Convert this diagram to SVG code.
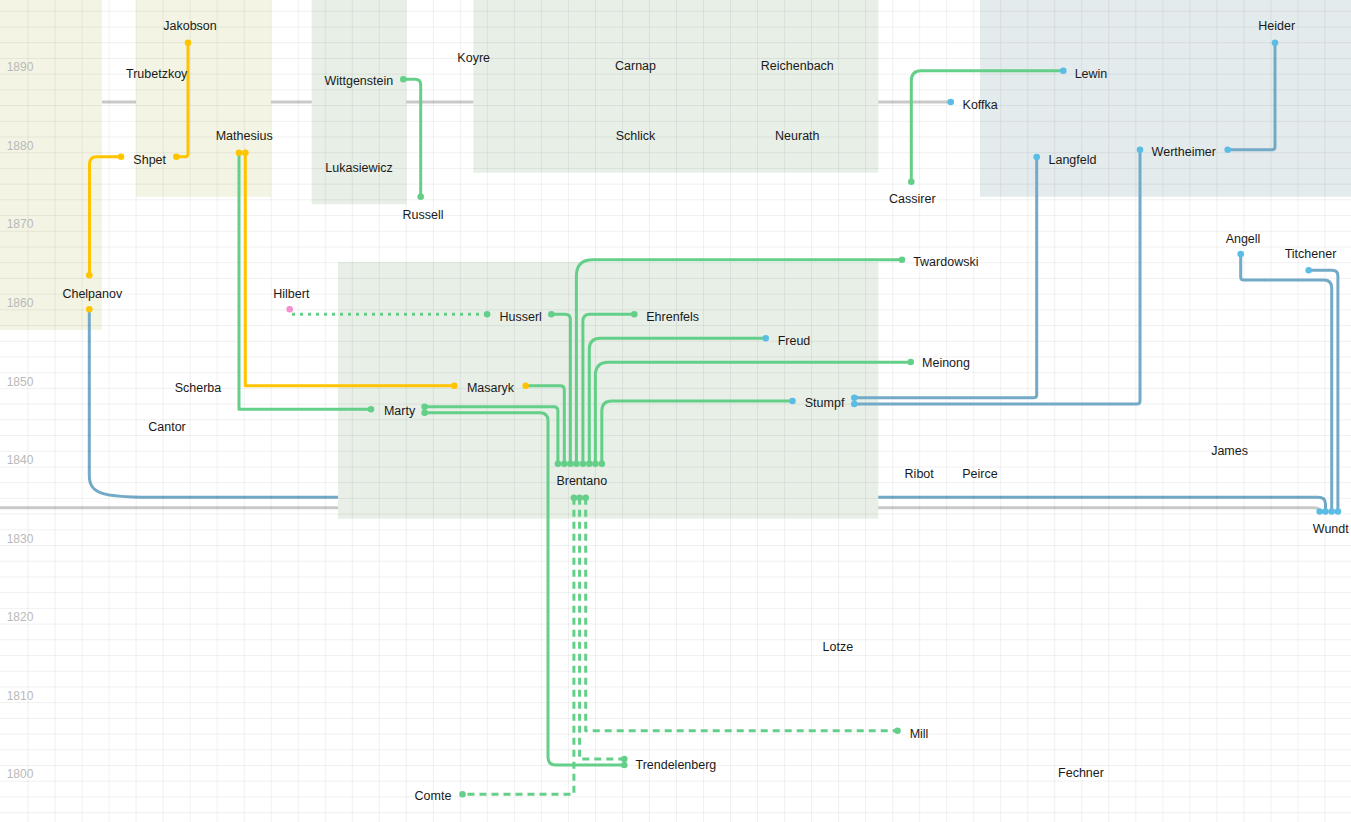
<svg xmlns="http://www.w3.org/2000/svg" width="1351" height="822" viewBox="0 0 1351 822">
<style>
.lbl{font-family:"Liberation Sans",Arial,sans-serif;font-size:12.5px;fill:#1a1a1a;text-anchor:middle}
.yr{font-family:"Liberation Sans",Arial,sans-serif;font-size:12px;fill:#b9b9b9}
.grid{stroke:#000;stroke-opacity:0.06;stroke-width:1;fill:none}
.c{fill:none;stroke-width:3;stroke-linejoin:round}
.g{stroke:#64cf88}
.y{stroke:#ffc400}
.b{stroke:#72aac8}
.gr{stroke:#c9c9c9}
.dash{stroke-dasharray:7 5}
.dot{stroke-dasharray:3 5}
.dg{fill:#64cf88}
.dy{fill:#ffc400}
.db{fill:#5bbde6}
.dp{fill:#f48fd0}
.box-y{fill:#f3f4e3}
.box-g{fill:#e7efe7}
.box-b{fill:#e4ebec}
</style>
<rect width="1351" height="822" fill="#ffffff"/>
<rect class="box-y" x="0" y="0" width="102" height="330"/>
<g id="background-lines">
<path class="c gr" d="M102 102H950.7"/>
<path class="c gr" d="M0 507.7H1314Q1319.7 507.7 1319.7 511.5"/>
<path class="c b" d="M89.3 309.3V475C89.3 493 100 497.3 150 497.3H1318Q1325.5 497.3 1325.5 504V511.5"/>
</g>
<g id="groups">
<rect class="box-y" x="136" y="0" width="135.2" height="196.7"/>
<rect class="box-g" x="311.7" y="0" width="94.6" height="204.3"/>
<rect class="box-g" x="473.3" y="0" width="405" height="172.7"/>
<rect class="box-b" x="980" y="0" width="371" height="196.7"/>
<rect class="box-g" x="338" y="262" width="540.3" height="256.7"/>
</g>
<path class="grid" d="M28.02 0V822M55.04 0V822M82.06 0V822M109.08 0V822M136.1 0V822M163.12 0V822M190.14 0V822M217.16 0V822M244.18 0V822M271.2 0V822M298.22 0V822M325.24 0V822M352.26 0V822M379.28 0V822M406.3 0V822M433.32 0V822M460.34 0V822M487.36 0V822M514.38 0V822M541.4 0V822M568.42 0V822M595.44 0V822M622.46 0V822M649.48 0V822M676.5 0V822M703.52 0V822M730.54 0V822M757.56 0V822M784.58 0V822M811.6 0V822M838.62 0V822M865.64 0V822M892.66 0V822M919.68 0V822M946.7 0V822M973.72 0V822M1000.74 0V822M1027.76 0V822M1054.78 0V822M1081.8 0V822M1108.82 0V822M1135.84 0V822M1162.86 0V822M1189.88 0V822M1216.9 0V822M1243.92 0V822M1270.94 0V822M1297.96 0V822M1324.98 0V822"/>
<path class="grid" d="M0 11.3H1351M0 27.01H1351M0 42.72H1351M0 58.44H1351M0 74.15H1351M0 89.86H1351M0 105.57H1351M0 121.28H1351M0 137H1351M0 152.71H1351M0 168.42H1351M0 184.13H1351M0 199.84H1351M0 215.56H1351M0 231.27H1351M0 246.98H1351M0 262.69H1351M0 278.4H1351M0 294.12H1351M0 309.83H1351M0 325.54H1351M0 341.25H1351M0 356.96H1351M0 372.68H1351M0 388.39H1351M0 404.1H1351M0 419.81H1351M0 435.52H1351M0 451.24H1351M0 466.95H1351M0 482.66H1351M0 498.37H1351M0 514.08H1351M0 529.8H1351M0 545.51H1351M0 561.22H1351M0 576.93H1351M0 592.64H1351M0 608.36H1351M0 624.07H1351M0 639.78H1351M0 655.49H1351M0 671.2H1351M0 686.92H1351M0 702.63H1351M0 718.34H1351M0 734.05H1351M0 749.76H1351M0 765.48H1351M0 781.19H1351M0 796.9H1351M0 812.61H1351"/>
<g id="years">
<text class="yr" x="6.7" y="71.4">1890</text>
<text class="yr" x="6.7" y="149.9">1880</text>
<text class="yr" x="6.7" y="228.4">1870</text>
<text class="yr" x="6.7" y="307">1860</text>
<text class="yr" x="6.7" y="385.6">1850</text>
<text class="yr" x="6.7" y="464.1">1840</text>
<text class="yr" x="6.7" y="542.7">1830</text>
<text class="yr" x="6.7" y="621.3">1820</text>
<text class="yr" x="6.7" y="699.8">1810</text>
<text class="yr" x="6.7" y="778.4">1800</text>
</g>
<g id="connectors">
<path class="c y" d="M188 42.7V153.7Q188 156.7 185 156.7H176.3"/>
<path class="c y" d="M121 156.7H97Q89.5 156.7 89.5 164V275.3"/>
<path class="c g" d="M239 152.7V409.3H371"/>
<path class="c y" d="M245.3 152.7V385.7H454.3"/>
<path class="c g" d="M403.3 79.3H415Q420.7 79.3 420.7 85V196.7"/>
<path class="c g" d="M911.3 181.7V80.7Q911.3 70.7 921.3 70.7H1063.3"/>
<path class="c b" d="M1275 42.7V146.7Q1275 149.7 1272 149.7H1227.7"/>
<path class="c b" d="M1140 149.7V401Q1140 404 1137 404H854.3"/>
<path class="c b" d="M1036.7 157V394.7Q1036.7 397.7 1033.7 397.7H854.3"/>
<path class="c b" d="M1240.7 254V277Q1240.7 280 1244 280H1324Q1331.7 280 1331.7 288V511.5"/>
<path class="c b" d="M1308.7 270.3H1332Q1337.9 270.3 1337.9 276V511.5"/>
<path class="c g" d="M576.4 463.7V276Q576.4 259.7 592.7 259.7H902"/>
<path class="c g" d="M582.9 463.7V321.3Q582.9 314.3 589.9 314.3H634.3"/>
<path class="c g" d="M589.3 463.7V349.3Q589.3 338.3 600.3 338.3H765.7"/>
<path class="c g" d="M595.4 463.7V375.3Q595.4 362.3 608.4 362.3H910.7"/>
<path class="c g" d="M601.8 463.7V411Q601.8 401 611.8 401H792.5"/>
<path class="c g" d="M551.4 314.3H565.4Q570.4 314.3 570.4 319.3V463.7"/>
<path class="c g" d="M525.7 385.7H560.3Q564.3 385.7 564.3 389.7V463.7"/>
<path class="c g" d="M424.6 406.7H553.9Q557.9 406.7 557.9 410.7V463.7"/>
<path class="c g" d="M424.6 412.7H540Q548 412.7 548 420.7V757Q548 765 556 765H624.3"/>
<path class="c g dot" d="M292 314.3H487.1"/>
<path class="c g dash" d="M573.9 497.7V794.3H462.5"/>
<path class="c g dash" d="M579.6 497.7V759H624.3"/>
<path class="c g dash" d="M585.7 497.7V730.7H897.5"/>
</g>
<g id="node-jakobson"><text class="lbl" x="190" y="30">Jakobson</text><circle class="dy" cx="188" cy="42.7" r="3.3"/></g>
<g id="node-trubetzkoy"><text class="lbl" x="156.7" y="78">Trubetzkoy</text></g>
<g id="node-shpet"><text class="lbl" x="149.7" y="164">Shpet</text><circle class="dy" cx="121" cy="156.7" r="3.3"/><circle class="dy" cx="176.3" cy="156.7" r="3.3"/></g>
<g id="node-mathesius"><text class="lbl" x="244.2" y="140">Mathesius</text><circle class="dy" cx="239" cy="152.7" r="3.3"/><circle class="dy" cx="245.3" cy="152.7" r="3.3"/></g>
<g id="node-chelpanov"><text class="lbl" x="92.3" y="297.7">Chelpanov</text><circle class="dy" cx="89.3" cy="275.3" r="3.3"/><circle class="dy" cx="89.3" cy="309.3" r="3.3"/></g>
<g id="node-wittgenstein"><text class="lbl" x="358.8" y="85.3">Wittgenstein</text><circle class="dg" cx="403.3" cy="79.3" r="3.3"/></g>
<g id="node-lukasiewicz"><text class="lbl" x="359" y="172">Lukasiewicz</text></g>
<g id="node-russell"><text class="lbl" x="423" y="218.7">Russell</text><circle class="dg" cx="420.7" cy="196.7" r="3.3"/></g>
<g id="node-hilbert"><text class="lbl" x="291.3" y="298.3">Hilbert</text><circle class="dp" cx="289.7" cy="309.3" r="3.3"/></g>
<g id="node-koyre"><text class="lbl" x="473.7" y="62.3">Koyre</text></g>
<g id="node-carnap"><text class="lbl" x="635.5" y="70">Carnap</text></g>
<g id="node-reichenbach"><text class="lbl" x="797.3" y="70">Reichenbach</text></g>
<g id="node-schlick"><text class="lbl" x="635.5" y="140">Schlick</text></g>
<g id="node-neurath"><text class="lbl" x="797.3" y="140">Neurath</text></g>
<g id="node-cassirer"><text class="lbl" x="912.3" y="202.7">Cassirer</text><circle class="dg" cx="911.3" cy="181.7" r="3.3"/></g>
<g id="node-lewin"><text class="lbl" x="1091" y="77.7">Lewin</text><circle class="db" cx="1063.3" cy="70.7" r="3.3"/></g>
<g id="node-koffka"><text class="lbl" x="980.2" y="108.7">Koffka</text><circle class="db" cx="950.7" cy="102" r="3.3"/></g>
<g id="node-heider"><text class="lbl" x="1276.7" y="30">Heider</text><circle class="db" cx="1275" cy="42.7" r="3.3"/></g>
<g id="node-wertheimer"><text class="lbl" x="1183.8" y="156">Wertheimer</text><circle class="db" cx="1227.7" cy="149.7" r="3.3"/><circle class="db" cx="1140" cy="149.7" r="3.3"/></g>
<g id="node-langfeld"><text class="lbl" x="1072.5" y="164">Langfeld</text><circle class="db" cx="1036.7" cy="157" r="3.3"/></g>
<g id="node-angell"><text class="lbl" x="1243" y="242.7">Angell</text><circle class="db" cx="1240.7" cy="254" r="3.3"/></g>
<g id="node-titchener"><text class="lbl" x="1310.5" y="257.7">Titchener</text><circle class="db" cx="1308.7" cy="270.3" r="3.3"/></g>
<g id="node-twardowski"><text class="lbl" x="945.8" y="265.7">Twardowski</text><circle class="dg" cx="902" cy="259.7" r="3.3"/></g>
<g id="node-husserl"><text class="lbl" x="520.7" y="320.7">Husserl</text><circle class="dg" cx="487.1" cy="314.3" r="3.3"/><circle class="dg" cx="551.4" cy="314.3" r="3.3"/></g>
<g id="node-ehrenfels"><text class="lbl" x="672.7" y="320.7">Ehrenfels</text><circle class="dg" cx="634.3" cy="314.3" r="3.3"/></g>
<g id="node-freud"><text class="lbl" x="794" y="345">Freud</text><circle class="db" cx="765.7" cy="338.3" r="3.3"/></g>
<g id="node-meinong"><text class="lbl" x="946" y="367.3">Meinong</text><circle class="dg" cx="910.7" cy="362" r="3.3"/></g>
<g id="node-masaryk"><text class="lbl" x="490.5" y="391.7">Masaryk</text><circle class="dy" cx="454.3" cy="385.7" r="3.3"/><circle class="dy" cx="525.7" cy="385.7" r="3.3"/></g>
<g id="node-marty"><text class="lbl" x="399.5" y="415">Marty</text><circle class="dg" cx="371" cy="409.3" r="3.3"/><circle class="dg" cx="424.6" cy="406.7" r="3.3"/><circle class="dg" cx="424.6" cy="412.7" r="3.3"/></g>
<g id="node-stumpf"><text class="lbl" x="824.6" y="407.3">Stumpf</text><circle class="db" cx="792.5" cy="401" r="3.3"/><circle class="db" cx="854.3" cy="397.7" r="3.3"/><circle class="db" cx="854.3" cy="404" r="3.3"/></g>
<g id="node-brentano"><text class="lbl" x="581.8" y="485">Brentano</text>
<circle class="dg" cx="557.9" cy="463.7" r="3.3"/><circle class="dg" cx="564.3" cy="463.7" r="3.3"/><circle class="dg" cx="570.4" cy="463.7" r="3.3"/><circle class="dg" cx="576.4" cy="463.7" r="3.3"/><circle class="dg" cx="582.9" cy="463.7" r="3.3"/><circle class="dg" cx="589.3" cy="463.7" r="3.3"/><circle class="dg" cx="595.4" cy="463.7" r="3.3"/><circle class="dg" cx="601.8" cy="463.7" r="3.3"/>
<circle class="dg" cx="573.9" cy="497.7" r="3.3"/><circle class="dg" cx="579.6" cy="497.7" r="3.3"/><circle class="dg" cx="585.7" cy="497.7" r="3.3"/></g>
<g id="node-scherba"><text class="lbl" x="198" y="391.7">Scherba</text></g>
<g id="node-cantor"><text class="lbl" x="167" y="431">Cantor</text></g>
<g id="node-ribot"><text class="lbl" x="919.2" y="477.7">Ribot</text></g>
<g id="node-peirce"><text class="lbl" x="979.9" y="477.7">Peirce</text></g>
<g id="node-james"><text class="lbl" x="1229.6" y="454.7">James</text></g>
<g id="node-wundt"><text class="lbl" x="1330.8" y="532.7">Wundt</text><circle class="db" cx="1319.7" cy="511.5" r="3.3"/><circle class="db" cx="1325.5" cy="511.5" r="3.3"/><circle class="db" cx="1331.7" cy="511.5" r="3.3"/><circle class="db" cx="1337.9" cy="511.5" r="3.3"/></g>
<g id="node-lotze"><text class="lbl" x="837.9" y="650.7">Lotze</text></g>
<g id="node-mill"><text class="lbl" x="919" y="737.7">Mill</text><circle class="dg" cx="897.5" cy="730.7" r="3.3"/></g>
<g id="node-trendelenberg"><text class="lbl" x="675.9" y="769.3">Trendelenberg</text><circle class="dg" cx="624.3" cy="759" r="3.3"/><circle class="dg" cx="624.3" cy="765" r="3.3"/></g>
<g id="node-comte"><text class="lbl" x="433" y="800">Comte</text><circle class="dg" cx="462.5" cy="794.3" r="3.3"/></g>
<g id="node-fechner"><text class="lbl" x="1081" y="776.5">Fechner</text></g>
</svg>
